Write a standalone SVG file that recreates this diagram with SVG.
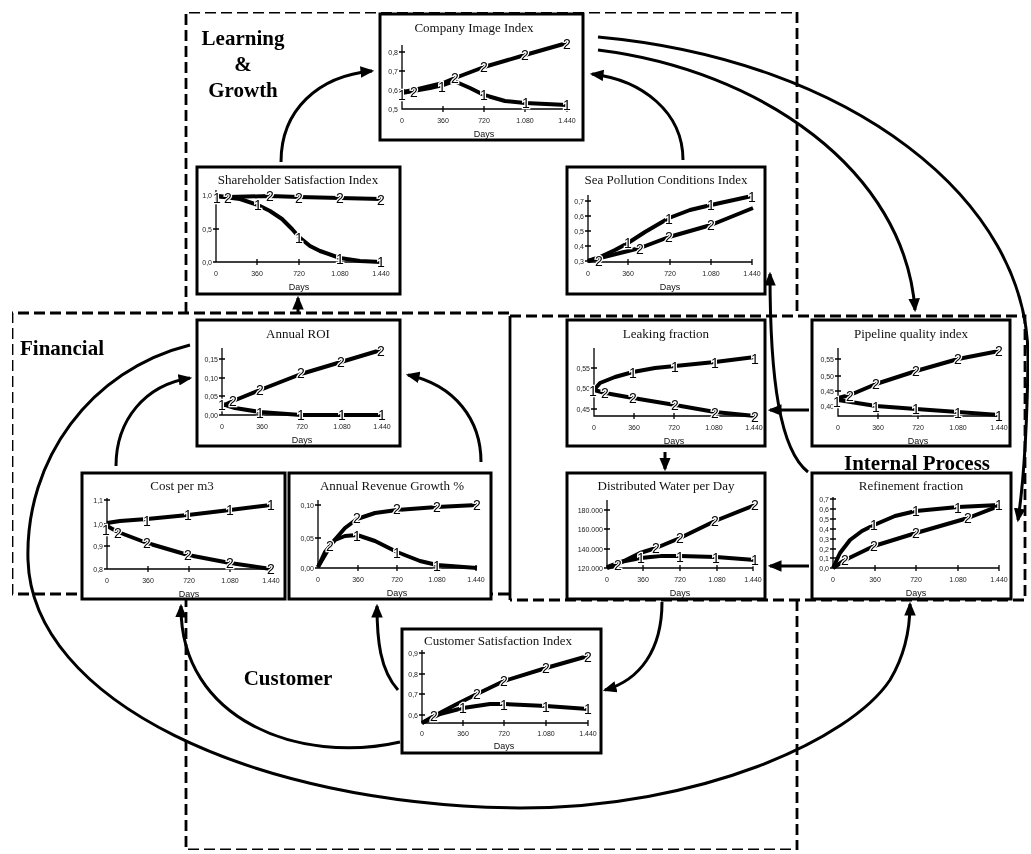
<svg xmlns="http://www.w3.org/2000/svg" width="1031" height="854" viewBox="0 0 1031 854">
  <style>
    .zone { fill: none; stroke: #000; stroke-width: 2.8; stroke-dasharray: 11 5; }
    .solid { fill: none; stroke: #000; stroke-width: 2.8; }
    .zl { font-family: "Liberation Serif", "Times New Roman", serif; font-weight: bold; font-size: 21px; fill: #000; }
    .frame { fill: #fff; stroke: #000; stroke-width: 3; }
    .ttl { font-family: "Liberation Serif", "Times New Roman", serif; font-size: 13px; fill: #111; text-anchor: middle; }
    .ax { fill: none; stroke: #000; stroke-width: 1.3; }
    .tk { font-family: "Liberation Sans", Arial, sans-serif; font-size: 7px; fill: #222; }
    .ty { text-anchor: end; }
    .tx { text-anchor: middle; }
    .days { font-family: "Liberation Sans", Arial, sans-serif; font-size: 9px; fill: #111; text-anchor: middle; }
    .crv { fill: none; stroke: #000; stroke-width: 4; stroke-linejoin: round; stroke-linecap: butt; }
    .n { font-family: "Liberation Sans", Arial, sans-serif; font-size: 14px; fill: #000; stroke: #fff; stroke-width: 2.5; paint-order: stroke; text-anchor: middle; dominant-baseline: central; }
    .link { fill: none; stroke: #000; stroke-width: 3; marker-end: url(#head); }
  </style>
  <defs>
    <marker id="head" viewBox="0 0 12 10" refX="10" refY="5" markerWidth="4.6" markerHeight="3.9" orient="auto" markerUnits="strokeWidth">
      <path d="M0,0 L12,5 L0,10 Z" fill="#000"/>
    </marker>
    <!-- flattening pass so the text is drawn with plain grey antialiasing -->
    <filter id="flat" x="0" y="0" width="1" height="1">
      <feOffset dx="0" dy="0"/>
    </filter>
  </defs>

  <rect width="1031" height="854" fill="#fff"/>

  <g filter="url(#flat)">
  <!-- perspective zones -->
  <g id="zones">
    <path class="zone" d="M186,313 V12 H797 V316"/>
    <path class="zone" d="M509,313 H12 V594 H509"/>
    <path class="zone" d="M510,316 H1025 V600 H510"/>
    <path class="solid" d="M510,316 V600"/>
    <path class="zone" d="M186,596 V850 H797 V600"/>
    <text class="zl" x="243" y="45" text-anchor="middle">Learning</text>
    <text class="zl" x="243" y="71" text-anchor="middle">&amp;</text>
    <text class="zl" x="243" y="97" text-anchor="middle">Growth</text>
    <text class="zl" x="20" y="355">Financial</text>
    <text class="zl" x="917" y="470" text-anchor="middle">Internal Process</text>
    <text class="zl" x="288" y="685" text-anchor="middle">Customer</text>
  </g>

  <!-- Company Image Index -->
  <g id="company-image">
    <rect class="frame" x="380" y="14" width="203" height="126"/>
    <text class="ttl" x="474" y="32">Company Image Index</text>
    <path class="ax" d="M402,45 V109 H567 M399,52 H405 M399,71 H405 M399,90 H405 M443,106 V112 M484,106 V112 M525,106 V112 M567,106 V112"/>
    <text class="tk ty" x="398" y="54.5">0,8</text>
    <text class="tk ty" x="398" y="73.5">0,7</text>
    <text class="tk ty" x="398" y="92.5">0,6</text>
    <text class="tk ty" x="398" y="111.5">0,5</text>
    <text class="tk tx" x="402" y="123">0</text>
    <text class="tk tx" x="443" y="123">360</text>
    <text class="tk tx" x="484" y="123">720</text>
    <text class="tk tx" x="525" y="123">1.080</text>
    <text class="tk tx" x="567" y="123">1.440</text>
    <text class="days" x="484" y="137">Days</text>
    <path class="crv" d="M402,92 L414,90 L443,83 L455,78 L484,67 L525,55 L567,43"/>
    <path class="crv" d="M402,93 L430,88 L443,85 L454,81 L470,88 L484,95 L505,101 L525,103 L567,105"/>
    <text class="n" x="402" y="95">1</text><text class="n" x="414" y="92">2</text>
    <text class="n" x="442" y="87">1</text><text class="n" x="455" y="78">2</text>
    <text class="n" x="484" y="67">2</text><text class="n" x="484" y="95">1</text>
    <text class="n" x="525" y="55">2</text><text class="n" x="526" y="103">1</text>
    <text class="n" x="567" y="44">2</text><text class="n" x="567" y="105">1</text>
  </g>

  <!-- Shareholder Satisfaction Index -->
  <g id="shareholder-satisfaction">
    <rect class="frame" x="197" y="167" width="203" height="127"/>
    <text class="ttl" x="298" y="184">Shareholder Satisfaction Index</text>
    <path class="ax" d="M216,190 V262 H381 M213,195 H219 M213,229 H219 M213,262 H219 M257,259 V265 M299,259 V265 M340,259 V265 M381,259 V265"/>
    <text class="tk ty" x="212" y="197.5">1,0</text>
    <text class="tk ty" x="212" y="231.5">0,5</text>
    <text class="tk ty" x="212" y="264.5">0,0</text>
    <text class="tk tx" x="216" y="276">0</text>
    <text class="tk tx" x="257" y="276">360</text>
    <text class="tk tx" x="299" y="276">720</text>
    <text class="tk tx" x="340" y="276">1.080</text>
    <text class="tk tx" x="381" y="276">1.440</text>
    <text class="days" x="299" y="290">Days</text>
    <path class="crv" d="M216,196 L228,197 L270,196 L299,197 L340,198 L381,199"/>
    <path class="crv" d="M216,196 L240,199 L258,205 L270,211 L282,219 L292,229 L299,237 L310,246 L320,251 L340,258 L360,261 L381,262"/>
    <text class="n" x="217" y="198">1</text><text class="n" x="228" y="198">2</text>
    <text class="n" x="258" y="205">1</text><text class="n" x="270" y="196">2</text>
    <text class="n" x="299" y="198">2</text><text class="n" x="299" y="238">1</text>
    <text class="n" x="340" y="198">2</text><text class="n" x="340" y="259">1</text>
    <text class="n" x="381" y="200">2</text><text class="n" x="381" y="262">1</text>
  </g>

  <!-- Sea Pollution Conditions Index -->
  <g id="sea-pollution">
    <rect class="frame" x="567" y="167" width="198" height="127"/>
    <text class="ttl" x="666" y="184">Sea Pollution Conditions Index</text>
    <path class="ax" d="M588,195 V262 H752 M585,201 H591 M585,216 H591 M585,231 H591 M585,246 H591 M585,261 H591 M628,259 V265 M670,259 V265 M711,259 V265 M752,259 V265"/>
    <text class="tk ty" x="584" y="203.5">0,7</text>
    <text class="tk ty" x="584" y="218.5">0,6</text>
    <text class="tk ty" x="584" y="233.5">0,5</text>
    <text class="tk ty" x="584" y="248.5">0,4</text>
    <text class="tk ty" x="584" y="263.5">0,3</text>
    <text class="tk tx" x="588" y="276">0</text>
    <text class="tk tx" x="628" y="276">360</text>
    <text class="tk tx" x="670" y="276">720</text>
    <text class="tk tx" x="711" y="276">1.080</text>
    <text class="tk tx" x="752" y="276">1.440</text>
    <text class="days" x="670" y="290">Days</text>
    <path class="crv" d="M588,261 L600,257 L615,250 L628,243 L645,232 L669,218 L690,210 L711,205 L752,196"/>
    <path class="crv" d="M588,261 L600,258 L620,253 L640,248 L669,237 L690,231 L711,225 L753,208"/>
    <text class="n" x="599" y="261">2</text>
    <text class="n" x="628" y="243">1</text><text class="n" x="640" y="249">2</text>
    <text class="n" x="669" y="219">1</text><text class="n" x="669" y="237">2</text>
    <text class="n" x="711" y="205">1</text><text class="n" x="711" y="225">2</text>
    <text class="n" x="752" y="197">1</text>
  </g>

  <!-- Annual ROI -->
  <g id="annual-roi">
    <rect class="frame" x="197" y="320" width="203" height="126"/>
    <text class="ttl" x="298" y="338">Annual ROI</text>
    <path class="ax" d="M222,348 V415 H382 M219,359 H225 M219,378 H225 M219,396 H225 M219,415 H225 M262,412 V418 M302,412 V418 M342,412 V418 M382,412 V418"/>
    <text class="tk ty" x="218" y="361.5">0,15</text>
    <text class="tk ty" x="218" y="380.5">0,10</text>
    <text class="tk ty" x="218" y="398.5">0,05</text>
    <text class="tk ty" x="218" y="417.5">0,00</text>
    <text class="tk tx" x="222" y="429">0</text>
    <text class="tk tx" x="262" y="429">360</text>
    <text class="tk tx" x="302" y="429">720</text>
    <text class="tk tx" x="342" y="429">1.080</text>
    <text class="tk tx" x="382" y="429">1.440</text>
    <text class="days" x="302" y="443">Days</text>
    <path class="crv" d="M222,406 L233,401 L260,390 L301,374 L341,362 L381,350"/>
    <path class="crv" d="M222,404 L235,408 L260,412 L301,415 L382,415"/>
    <text class="n" x="222" y="405">1</text><text class="n" x="233" y="401">2</text>
    <text class="n" x="260" y="390">2</text><text class="n" x="260" y="413">1</text>
    <text class="n" x="301" y="373">2</text><text class="n" x="301" y="415">1</text>
    <text class="n" x="341" y="362">2</text><text class="n" x="342" y="415">1</text>
    <text class="n" x="381" y="351">2</text><text class="n" x="382" y="415">1</text>
  </g>

  <!-- Leaking fraction -->
  <g id="leaking-fraction">
    <rect class="frame" x="567" y="320" width="198" height="126"/>
    <text class="ttl" x="666" y="338">Leaking fraction</text>
    <path class="ax" d="M594,348 V416 H754 M591,368 H597 M591,388 H597 M591,409 H597 M634,413 V419 M674,413 V419 M714,413 V419 M754,413 V419"/>
    <text class="tk ty" x="590" y="370.5">0,55</text>
    <text class="tk ty" x="590" y="390.5">0,50</text>
    <text class="tk ty" x="590" y="411.5">0,45</text>
    <text class="tk tx" x="594" y="430">0</text>
    <text class="tk tx" x="634" y="430">360</text>
    <text class="tk tx" x="674" y="430">720</text>
    <text class="tk tx" x="714" y="430">1.080</text>
    <text class="tk tx" x="754" y="430">1.440</text>
    <text class="days" x="674" y="444">Days</text>
    <path class="crv" d="M594,390 L600,383 L615,377 L633,372 L655,368 L675,366 L715,362 L755,357"/>
    <path class="crv" d="M594,390 L605,393 L633,398 L675,405 L715,412 L755,416"/>
    <text class="n" x="593" y="391">1</text><text class="n" x="605" y="393">2</text>
    <text class="n" x="633" y="373">1</text><text class="n" x="633" y="398">2</text>
    <text class="n" x="675" y="367">1</text><text class="n" x="675" y="405">2</text>
    <text class="n" x="715" y="363">1</text><text class="n" x="715" y="413">2</text>
    <text class="n" x="755" y="359">1</text><text class="n" x="755" y="417">2</text>
  </g>

  <!-- Pipeline quality index -->
  <g id="pipeline-quality">
    <rect class="frame" x="812" y="320" width="198" height="126"/>
    <text class="ttl" x="911" y="338">Pipeline quality index</text>
    <path class="ax" d="M838,348 V416 H999 M835,359 H841 M835,376 H841 M835,391 H841 M835,406 H841 M878,413 V419 M918,413 V419 M958,413 V419 M999,413 V419"/>
    <text class="tk ty" x="834" y="361.5">0,55</text>
    <text class="tk ty" x="834" y="378.5">0,50</text>
    <text class="tk ty" x="834" y="393.5">0,45</text>
    <text class="tk ty" x="834" y="408.5">0,40</text>
    <text class="tk tx" x="838" y="430">0</text>
    <text class="tk tx" x="878" y="430">360</text>
    <text class="tk tx" x="918" y="430">720</text>
    <text class="tk tx" x="958" y="430">1.080</text>
    <text class="tk tx" x="999" y="430">1.440</text>
    <text class="days" x="918" y="444">Days</text>
    <path class="crv" d="M838,398 L850,395 L876,384 L916,371 L958,359 L999,351"/>
    <path class="crv" d="M838,400 L876,406 L916,409 L958,412 L999,415"/>
    <text class="n" x="837" y="402">1</text><text class="n" x="850" y="396">2</text>
    <text class="n" x="876" y="384">2</text><text class="n" x="876" y="407">1</text>
    <text class="n" x="916" y="371">2</text><text class="n" x="916" y="409">1</text>
    <text class="n" x="958" y="359">2</text><text class="n" x="958" y="413">1</text>
    <text class="n" x="999" y="351">2</text><text class="n" x="999" y="416">1</text>
  </g>

  <!-- Cost per m3 -->
  <g id="cost-per-m3">
    <rect class="frame" x="82" y="473" width="203" height="126"/>
    <text class="ttl" x="182" y="490">Cost per m3</text>
    <path class="ax" d="M107,498 V569 H271 M104,500 H110 M104,524 H110 M104,546 H110 M104,569 H110 M148,566 V572 M189,566 V572 M230,566 V572 M271,566 V572"/>
    <text class="tk ty" x="103" y="502.5">1,1</text>
    <text class="tk ty" x="103" y="526.5">1,0</text>
    <text class="tk ty" x="103" y="548.5">0,9</text>
    <text class="tk ty" x="103" y="571.5">0,8</text>
    <text class="tk tx" x="107" y="583">0</text>
    <text class="tk tx" x="148" y="583">360</text>
    <text class="tk tx" x="189" y="583">720</text>
    <text class="tk tx" x="230" y="583">1.080</text>
    <text class="tk tx" x="271" y="583">1.440</text>
    <text class="days" x="189" y="597">Days</text>
    <path class="crv" d="M107,523 L120,521 L147,519 L188,515 L230,510 L271,505"/>
    <path class="crv" d="M107,526 L118,532 L147,543 L188,555 L230,563 L271,569"/>
    <text class="n" x="106" y="530">1</text><text class="n" x="118" y="533">2</text>
    <text class="n" x="147" y="521">1</text><text class="n" x="147" y="543">2</text>
    <text class="n" x="188" y="515">1</text><text class="n" x="188" y="555">2</text>
    <text class="n" x="230" y="510">1</text><text class="n" x="230" y="563">2</text>
    <text class="n" x="271" y="505">1</text><text class="n" x="271" y="569">2</text>
  </g>

  <!-- Annual Revenue Growth % -->
  <g id="revenue-growth">
    <rect class="frame" x="289" y="473" width="202" height="126"/>
    <text class="ttl" x="392" y="490">Annual Revenue Growth %</text>
    <path class="ax" d="M318,500 V568 H476 M315,505 H321 M315,538 H321 M315,568 H321 M358,565 V571 M397,565 V571 M437,565 V571 M476,565 V571"/>
    <text class="tk ty" x="314" y="507.5">0,10</text>
    <text class="tk ty" x="314" y="540.5">0,05</text>
    <text class="tk ty" x="314" y="570.5">0,00</text>
    <text class="tk tx" x="318" y="582">0</text>
    <text class="tk tx" x="358" y="582">360</text>
    <text class="tk tx" x="397" y="582">720</text>
    <text class="tk tx" x="437" y="582">1.080</text>
    <text class="tk tx" x="476" y="582">1.440</text>
    <text class="days" x="397" y="596">Days</text>
    <path class="crv" d="M318,567 L325,555 L332,543 L345,528 L357,519 L375,513 L397,510 L437,507 L477,505"/>
    <path class="crv" d="M318,567 L325,552 L335,540 L345,536 L357,535 L375,541 L397,552 L420,561 L437,565 L477,568"/>
    <text class="n" x="330" y="546">2</text>
    <text class="n" x="357" y="518">2</text><text class="n" x="357" y="536">1</text>
    <text class="n" x="397" y="509">2</text><text class="n" x="397" y="553">1</text>
    <text class="n" x="437" y="507">2</text><text class="n" x="437" y="566">1</text>
    <text class="n" x="477" y="505">2</text>
  </g>

  <!-- Distributed Water per Day -->
  <g id="distributed-water">
    <rect class="frame" x="567" y="473" width="198" height="126"/>
    <text class="ttl" x="666" y="490">Distributed Water per Day</text>
    <path class="ax" d="M607,500 V568 H753 M604,510 H610 M604,529 H610 M604,549 H610 M604,568 H610 M643,565 V571 M680,565 V571 M717,565 V571 M753,565 V571"/>
    <text class="tk ty" x="603" y="512.5">180.000</text>
    <text class="tk ty" x="603" y="531.5">160.000</text>
    <text class="tk ty" x="603" y="551.5">140.000</text>
    <text class="tk ty" x="603" y="570.5">120.000</text>
    <text class="tk tx" x="607" y="582">0</text>
    <text class="tk tx" x="643" y="582">360</text>
    <text class="tk tx" x="680" y="582">720</text>
    <text class="tk tx" x="717" y="582">1.080</text>
    <text class="tk tx" x="753" y="582">1.440</text>
    <text class="days" x="680" y="596">Days</text>
    <path class="crv" d="M607,568 L618,564 L640,553 L656,548 L680,538 L715,521 L755,505"/>
    <path class="crv" d="M607,567 L620,562 L641,558 L660,556 L680,556 L716,557 L755,560"/>
    <text class="n" x="618" y="565">2</text>
    <text class="n" x="641" y="558">1</text><text class="n" x="656" y="548">2</text>
    <text class="n" x="680" y="538">2</text><text class="n" x="680" y="557">1</text>
    <text class="n" x="715" y="521">2</text><text class="n" x="716" y="558">1</text>
    <text class="n" x="755" y="505">2</text><text class="n" x="755" y="560">1</text>
  </g>

  <!-- Refinement fraction -->
  <g id="refinement-fraction">
    <rect class="frame" x="812" y="473" width="199" height="126"/>
    <text class="ttl" x="911" y="490">Refinement fraction</text>
    <path class="ax" d="M833,497 V568 H999 M830,499 H836 M830,509 H836 M830,519 H836 M830,529 H836 M830,539 H836 M830,549 H836 M830,558 H836 M830,568 H836 M875,565 V571 M916,565 V571 M958,565 V571 M999,565 V571"/>
    <text class="tk ty" x="829" y="501.5">0,7</text>
    <text class="tk ty" x="829" y="511.5">0,6</text>
    <text class="tk ty" x="829" y="521.5">0,5</text>
    <text class="tk ty" x="829" y="531.5">0,4</text>
    <text class="tk ty" x="829" y="541.5">0,3</text>
    <text class="tk ty" x="829" y="551.5">0,2</text>
    <text class="tk ty" x="829" y="560.5">0,1</text>
    <text class="tk ty" x="829" y="570.5">0,0</text>
    <text class="tk tx" x="833" y="582">0</text>
    <text class="tk tx" x="875" y="582">360</text>
    <text class="tk tx" x="916" y="582">720</text>
    <text class="tk tx" x="958" y="582">1.080</text>
    <text class="tk tx" x="999" y="582">1.440</text>
    <text class="days" x="916" y="596">Days</text>
    <path class="crv" d="M833,568 L840,553 L850,540 L862,531 L874,525 L895,516 L916,511 L958,507 L999,505"/>
    <path class="crv" d="M833,568 L845,560 L874,546 L916,533 L968,518 L999,506"/>
    <text class="n" x="845" y="560">2</text>
    <text class="n" x="874" y="525">1</text><text class="n" x="874" y="546">2</text>
    <text class="n" x="916" y="511">1</text><text class="n" x="916" y="533">2</text>
    <text class="n" x="958" y="508">1</text><text class="n" x="968" y="518">2</text>
    <text class="n" x="999" y="505">1</text>
  </g>

  <!-- Customer Satisfaction Index -->
  <g id="customer-satisfaction">
    <rect class="frame" x="402" y="629" width="199" height="124"/>
    <text class="ttl" x="498" y="645">Customer Satisfaction Index</text>
    <path class="ax" d="M422,650 V723 H588 M419,653 H425 M419,674 H425 M419,694 H425 M419,715 H425 M463,720 V726 M504,720 V726 M546,720 V726 M588,720 V726"/>
    <text class="tk ty" x="418" y="655.5">0,9</text>
    <text class="tk ty" x="418" y="676.5">0,8</text>
    <text class="tk ty" x="418" y="696.5">0,7</text>
    <text class="tk ty" x="418" y="717.5">0,6</text>
    <text class="tk tx" x="422" y="736">0</text>
    <text class="tk tx" x="463" y="736">360</text>
    <text class="tk tx" x="504" y="736">720</text>
    <text class="tk tx" x="546" y="736">1.080</text>
    <text class="tk tx" x="588" y="736">1.440</text>
    <text class="days" x="504" y="749">Days</text>
    <path class="crv" d="M422,723 L434,716 L455,705 L477,694 L504,681 L546,668 L588,656"/>
    <path class="crv" d="M422,723 L440,714 L463,708 L490,704 L504,704 L546,706 L588,709"/>
    <text class="n" x="434" y="716">2</text>
    <text class="n" x="463" y="708">1</text><text class="n" x="477" y="694">2</text>
    <text class="n" x="504" y="681">2</text><text class="n" x="504" y="705">1</text>
    <text class="n" x="546" y="668">2</text><text class="n" x="546" y="707">1</text>
    <text class="n" x="588" y="657">2</text><text class="n" x="588" y="709">1</text>
  </g>

  <!-- causal links -->
  <g id="links">
    <path class="link" d="M281,162 C281,110 318,76 372,71"/>
    <path class="link" d="M683,160 C683,112 642,80 592,74"/>
    <path class="link" d="M598,50 C760,70 905,170 915,310"/>
    <path class="link" d="M598,37 C850,60 1030,200 1028,360 C1027,430 1024,480 1018,520"/>
    <path class="link" d="M298,313 V298"/>
    <path class="link" d="M116,466 C116,420 145,385 190,378"/>
    <path class="link" d="M481,462 C481,420 455,385 408,375"/>
    <path class="link" d="M809,410 H770"/>
    <path class="link" d="M665,452 V469"/>
    <path class="link" d="M809,566 H770"/>
    <path class="link" d="M808,472 C780,450 770,380 770,274"/>
    <path class="link" d="M662,602 C662,650 640,680 605,690"/>
    <path class="link" d="M398,690 C380,670 377,640 377,606"/>
    <path class="link" d="M400,742 C300,765 180,720 181,606"/>
    <path class="link" d="M190,345 C90,370 25,460 28,560 C32,700 250,805 520,808 C700,808 850,740 890,680 C905,655 910,630 910,604"/>
  </g>
  </g>
</svg>
